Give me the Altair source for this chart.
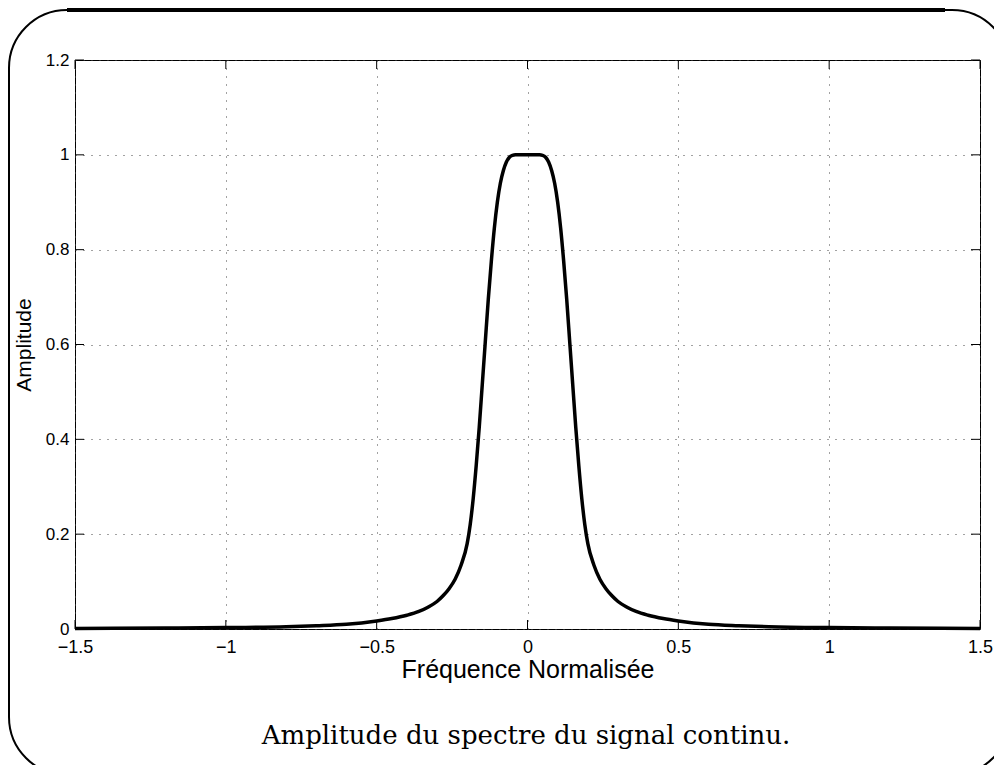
import altair as alt
import pandas as pd

# Curve (normalised frequency vs amplitude)
freq = [-1.5, -1.2, -1.0, -0.8, -0.7, -0.6, -0.5, -0.45, -0.4, -0.36, -0.33, -0.3,
        -0.28, -0.26, -0.24, -0.22, -0.2, -0.19, -0.18, -0.17, -0.16, -0.15, -0.14,
        -0.13, -0.12, -0.11, -0.1, -0.09, -0.08, -0.07, -0.06, -0.05, -0.04, -0.02,
        0.0,
        0.02, 0.04, 0.05, 0.06, 0.07, 0.08, 0.09, 0.1, 0.11, 0.12, 0.13, 0.14, 0.15,
        0.16, 0.17, 0.18, 0.19, 0.2, 0.22, 0.24, 0.26, 0.28, 0.3, 0.33, 0.36, 0.4,
        0.45, 0.5, 0.6, 0.7, 0.8, 1.0, 1.2, 1.5]
amp = [0.001, 0.002, 0.003, 0.005, 0.007, 0.010, 0.017, 0.022, 0.029, 0.037, 0.046, 0.058,
       0.070, 0.085, 0.105, 0.135, 0.180, 0.220, 0.275, 0.345, 0.425, 0.515, 0.605,
       0.695, 0.775, 0.845, 0.900, 0.940, 0.967, 0.985, 0.995, 0.999, 1.0, 1.0,
       1.0,
       1.0, 1.0, 0.999, 0.995, 0.985, 0.967, 0.940, 0.900, 0.845, 0.775, 0.695, 0.605, 0.515,
       0.425, 0.345, 0.275, 0.220, 0.180, 0.135, 0.105, 0.085, 0.070, 0.058, 0.046, 0.037, 0.029,
       0.022, 0.017, 0.010, 0.007, 0.005, 0.003, 0.002, 0.001]

x_ticks = [-1.5, -1.0, -0.5, 0.0, 0.5, 1.0, 1.5]
y_ticks = [0.0, 0.2, 0.4, 0.6, 0.8, 1.0, 1.2]

x_title = "Fréquence Normalisée"
y_title = "Amplitude"
caption = ["Amplitude du spectre du signal continu."]

W, H = 905, 569
SANS = "Liberation Sans"

df = pd.DataFrame({"f": freq, "a": amp})
xt = pd.DataFrame({"v": x_ticks})
yt = pd.DataFrame({"v": y_ticks})

xscale = alt.Scale(domain=[-1.5, 1.5], nice=False, zero=False)
yscale = alt.Scale(domain=[0, 1.2], nice=False, zero=False)

grid_axis = dict(grid=True, gridColor="#444", gridDash=[1, 7], gridWidth=1,
                 ticks=False, domain=False, labelFont=SANS,
                 labelColor="black", labelFlush=False, labelOverlap=False,
                 titleFont=SANS, titleFontWeight="normal", titleColor="black",
                 format="~g")

line = alt.Chart(df).mark_line(color="black", strokeWidth=3.5, interpolate="monotone").encode(
    x=alt.X("f:Q", scale=xscale,
            axis=alt.Axis(values=x_ticks, title=x_title, labelPadding=9, labelFontSize=18,
                          titleFontSize=25, titlePadding=1, **grid_axis)),
    y=alt.Y("a:Q", scale=yscale,
            axis=alt.Axis(values=y_ticks, title=y_title, labelPadding=6, labelFontSize=17,
                          titleFontSize=21, titlePadding=11, **grid_axis)),
)

tl = 9
bt = alt.Chart(xt).mark_rule(color="black", strokeWidth=1).encode(
    x=alt.X("v:Q", scale=xscale), y=alt.value(H), y2=alt.value(H - tl))
tt = alt.Chart(xt).mark_rule(color="black", strokeWidth=1).encode(
    x=alt.X("v:Q", scale=xscale), y=alt.value(0), y2=alt.value(tl))
lt = alt.Chart(yt).mark_rule(color="black", strokeWidth=1).encode(
    y=alt.Y("v:Q", scale=yscale), x=alt.value(0), x2=alt.value(tl))
rt = alt.Chart(yt).mark_rule(color="black", strokeWidth=1).encode(
    y=alt.Y("v:Q", scale=yscale), x=alt.value(W), x2=alt.value(W - tl))

cap_df = pd.DataFrame({"t": caption})
cap = alt.Chart(cap_df).mark_text(font="DejaVu Serif", fontSize=26, color="black",
                                   align="center", baseline="middle").encode(
    text="t:N", x=alt.value(451), y=alt.value(676))

# rounded frame (ovalbox) around the figure
frame = alt.Chart(cap_df).mark_rect(fill=None, stroke="black", strokeWidth=2,
                                    cornerRadius=58).encode(
    x=alt.value(-66), x2=alt.value(935), y=alt.value(-50), y2=alt.value(715))
top_bar = alt.Chart(cap_df).mark_rule(color="black", strokeWidth=4).encode(
    x=alt.value(-8), x2=alt.value(870), y=alt.value(-50))

chart = alt.layer(line, bt, tt, lt, rt, cap, frame, top_bar).properties(
    width=W, height=H,
    autosize=alt.AutoSizeParams(type="none"),
    padding={"left": 67, "top": 52, "right": 14, "bottom": 136},
).configure_view(stroke="black", strokeWidth=1)

chart.save("out.html", embed_options={"renderer": "svg", "actions": False})
